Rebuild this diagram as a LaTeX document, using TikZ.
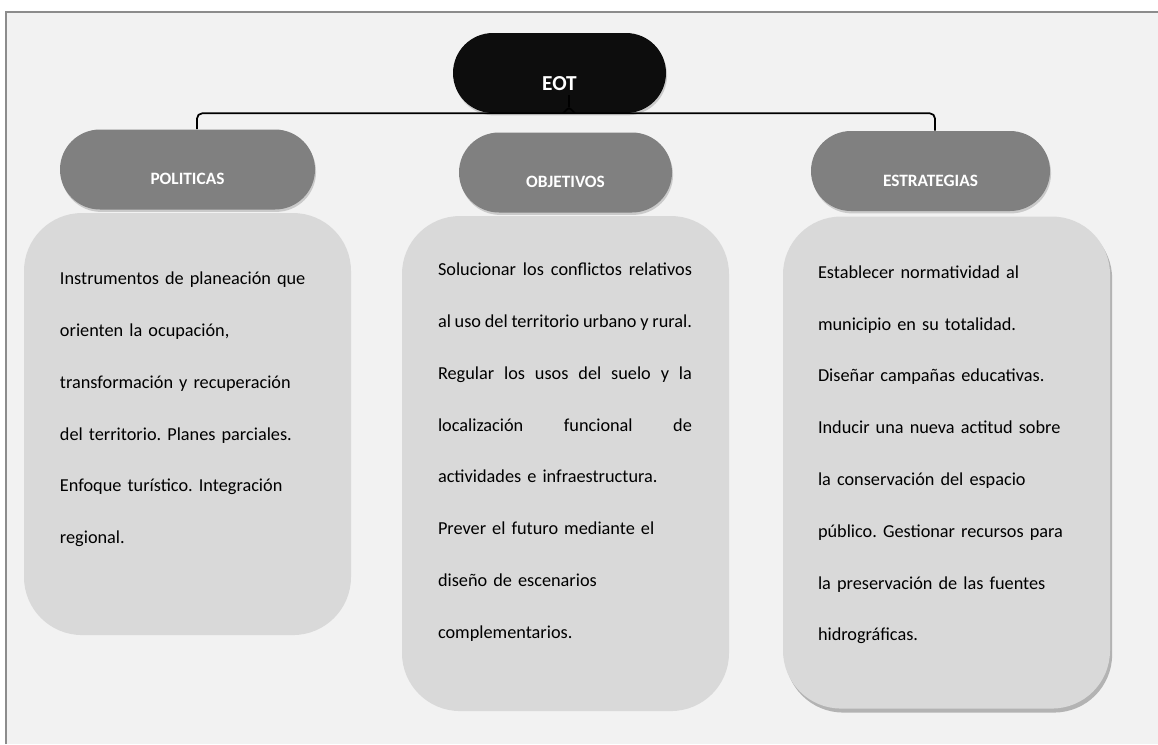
\documentclass[tikz,border=0pt]{standalone}
\usepackage{fontspec}
\setmainfont{Carlito}
\usetikzlibrary{calc,positioning,shadows}

\definecolor{bgfill}{HTML}{F2F2F2}
\definecolor{framegray}{HTML}{8C8C8C}
\definecolor{eotfill}{HTML}{0D0D0D}
\definecolor{headfill}{HTML}{808080}
\definecolor{cardfill}{HTML}{D9D9D9}

\newcommand{\jline}[1]{{\spaceskip=0pt\xspaceskip=0pt\makebox[190.5pt][s]{#1}}}

\begin{document}
\begin{tikzpicture}[
      x=0.75pt, y=-0.75pt,
      pill/.style={rectangle,rounded corners=30pt,fill=headfill,text=white,
        font=\bfseries\fontsize{13}{15}\selectfont,minimum height=60pt,
        text height=23pt,text depth=0pt,inner sep=0pt,
        drop shadow={shadow xshift=0.8pt,shadow yshift=-1.8pt,opacity=0.35}},
      card/.style={rectangle,rounded corners=43.5pt,fill=cardfill,
        minimum width=245.25pt,inner sep=0pt},
      body/.style={anchor=base west,inner sep=0pt,text width=200pt,align=left,
        font=\fontsize{13.7}{38.85}\selectfont\frenchspacing},
      conn/.style={draw=black,line width=1.3pt,rounded corners=4pt}
    ]
    \useasboundingbox (0,0) rectangle (1158,744);
    % Frame
    \fill[bgfill] (6,12) rectangle (1158,744);
    \draw[framegray,line width=1.1pt] (6,744) -- (6,12) -- (1158,12);

    % Heads
    \node[pill,fill=eotfill,minimum width=159.75pt,text height=26.8pt,
      font=\bfseries\fontsize{16}{18}\selectfont] (eot) at (559.5,73) {EOT};
    \node[pill,minimum width=191.25pt] (pol) at (187.5,169.5) {POLITICAS};
    \node[pill,minimum width=159.75pt] (obj) at (565.5,172.5) {OBJETIVOS};
    \node[pill,minimum width=179.25pt] (est) at (930.5,171) {ESTRATEGIAS};

    % Cards
    \node[card,minimum height=316.5pt,below=2.25pt of pol] (polcard) {};
    \node[card,minimum height=371.25pt,below=2.25pt of obj] (objcard) {};
    \node[card,minimum height=369pt,below=3.75pt of est,xshift=12pt,
      drop shadow={shadow xshift=1.6pt,shadow yshift=-3pt,opacity=0.55}] (estcard) {};

    \node[body] (poltxt) at ($(polcard.north west)+(36,72)$)
      {Instrumentos de planeación que\\
       orienten la ocupación,\\
       transformación y recuperación\\
       del territorio. Planes parciales.\\
       Enfoque turístico. Integración\\
       regional.};
    \node[body] (objtxt) at ($(objcard.north west)+(36,60)$)
      {\jline{Solucionar los conflictos relativos}\\
       \jline{al uso del territorio urbano y rural.}\\
       \jline{Regular los usos del suelo y la}\\
       \jline{localización funcional de}\\
       actividades e infraestructura.\\
       Prever el futuro mediante el\\
       diseño de escenarios\\
       complementarios.};
    \node[body] (esttxt) at ($(estcard.north west)+(35,62)$)
      {Establecer normatividad al\\
       municipio en su totalidad.\\
       Diseñar campañas educativas.\\
       Inducir una nueva actitud sobre\\
       la conservación del espacio\\
       público. Gestionar recursos para\\
       la preservación de las fuentes\\
       hidrográficas.};

    % Connector
    \draw[conn] ([xshift=7.1pt]pol.north) |- ([xshift=7.1pt]eot.south)
      -| ([xshift=3.4pt]est.north);
    \draw[conn,rounded corners=2pt] ($(eot.south)+(3.5,0)$)
      -- ($(eot.south)+(9.5,-6)$) -- ($(eot.south)+(15.5,0)$);
    \draw[conn] ($(eot.south)+(9.5,-6)$) -- ($(eot.south)+(9.5,-18)$);
  \end{tikzpicture}
\end{document}
